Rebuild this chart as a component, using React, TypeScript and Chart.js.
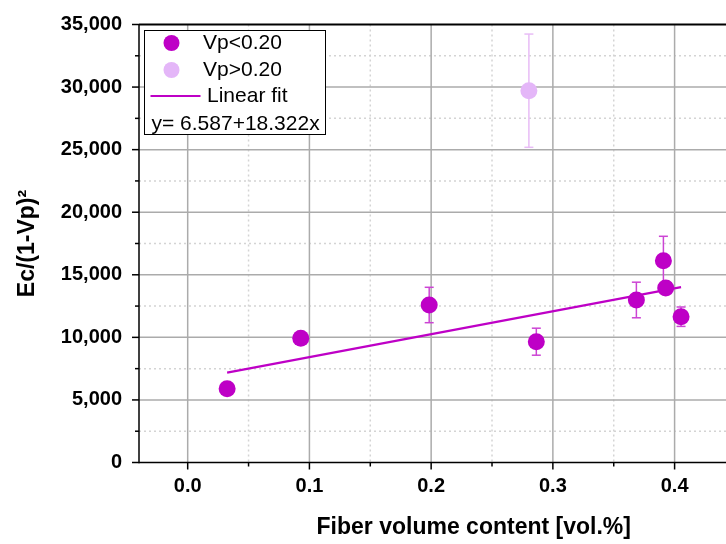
import React, { useEffect, useRef } from "react";
import { Chart, registerables } from "chart.js";

Chart.register(...registerables);

// ---- data ----
const lowX = [0.0324, 0.0929, 0.1984, 0.2864, 0.3686, 0.3908, 0.3927, 0.4053];
const lowY = [5900, 9925, 12586, 9653, 12986, 16126, 13945, 11651];
const lowErr = [300, 300, 1414, 1079, 1422, 1950, 500, 775];

const highX = [0.2803];
const highY = [29711];
const highErr = [4525];

const fitIntercept = 6587;
const fitSlope = 18322;
const fitRange = [0.0324, 0.4053];

const xTickValues = [0, 0.1, 0.2, 0.3, 0.4, 0.5];
const xTickLabels = ["0.0", "0.1", "0.2", "0.3", "0.4", "0.5"];
const xMinorValues = [0.05, 0.15, 0.25, 0.35, 0.45];
const yTickValues = [0, 5000, 10000, 15000, 20000, 25000, 30000, 35000];
const yTickLabels = ["0", "5,000", "10,000", "15,000", "20,000", "25,000", "30,000", "35,000"];
const yMinorValues = [2500, 7500, 12500, 17500, 22500, 27500, 32500];

const legendLabels = ["Vp<0.20", "Vp>0.20", "Linear fit"];
const equationText = "y= 6.587+18.322x";

const xTitle = "Fiber volume content [vol.%]";
const yTitle = "Ec/(1-Vp)\u00B2";

// ---- styles ----
const FONT = '"Liberation Sans", Arial, Helvetica, sans-serif';
const DARK = "#BE00C6";
const DARK_ERR = "#CC44D4";
const LIGHT = "#E4B6F8";
const LIGHT_ERR = "#E8BCF6";

function line(ctx: CanvasRenderingContext2D, x1: number, y1: number, x2: number, y2: number) {
  ctx.beginPath();
  ctx.moveTo(x1, y1);
  ctx.lineTo(x2, y2);
  ctx.stroke();
}

const framePlugin = {
  id: "frame",
  beforeDatasetsDraw(chart: any) {
    const { ctx, chartArea: a, scales } = chart;
    const x = scales.x;
    const y = scales.y;
    ctx.save();
    // minor dotted grid
    ctx.setLineDash([2, 3]);
    ctx.strokeStyle = "#d4d4d4";
    ctx.lineWidth = 1.5;
    xMinorValues.forEach((v) => {
      const px = x.getPixelForValue(v);
      line(ctx, px, a.top, px, a.bottom);
    });
    yMinorValues.forEach((v) => {
      const py = y.getPixelForValue(v);
      line(ctx, a.left, py, a.right, py);
    });
    // major grid
    ctx.setLineDash([]);
    ctx.strokeStyle = "#ababab";
    ctx.lineWidth = 1.5;
    xTickValues.forEach((v) => {
      const px = x.getPixelForValue(v);
      line(ctx, px, a.top, px, a.bottom);
    });
    yTickValues.forEach((v) => {
      if (v <= y.min || v >= y.max) return;
      const py = y.getPixelForValue(v);
      line(ctx, a.left, py, a.right, py);
    });
    // error bars
    const drawErr = (xs: number[], ys: number[], es: number[], color: string) => {
      ctx.strokeStyle = color;
      ctx.lineWidth = 1.5;
      xs.forEach((xv, i) => {
        const px = x.getPixelForValue(xv);
        const p1 = y.getPixelForValue(ys[i] + es[i]);
        const p2 = y.getPixelForValue(ys[i] - es[i]);
        line(ctx, px, p1, px, p2);
        line(ctx, px - 4.5, p1, px + 4.5, p1);
        line(ctx, px - 4.5, p2, px + 4.5, p2);
      });
    };
    drawErr(highX, highY, highErr, LIGHT_ERR);
    drawErr(lowX, lowY, lowErr, DARK_ERR);
    ctx.restore();
  },
  afterDraw(chart: any) {
    const { ctx, chartArea: a, scales } = chart;
    const x = scales.x;
    const y = scales.y;
    ctx.save();
    // axes lines
    ctx.strokeStyle = "#000";
    ctx.lineWidth = 1.5;
    line(ctx, a.left, a.top, a.left, a.bottom + 0.75);
    line(ctx, a.left, a.bottom, a.right, a.bottom);
    ctx.lineWidth = 2;
    line(ctx, a.left, a.top, a.right, a.top);
    // tick marks
    ctx.lineWidth = 1.5;
    xTickValues.forEach((v) => {
      const px = x.getPixelForValue(v);
      line(ctx, px, a.bottom, px, a.bottom + 7);
    });
    xMinorValues.forEach((v) => {
      const px = x.getPixelForValue(v);
      line(ctx, px, a.bottom, px, a.bottom + 4);
    });
    yTickValues.forEach((v) => {
      const py = y.getPixelForValue(v);
      line(ctx, a.left, py, a.left - 7, py);
    });
    yMinorValues.forEach((v) => {
      const py = y.getPixelForValue(v);
      line(ctx, a.left, py, a.left - 4, py);
    });
    // legend box
    const bx = a.left + 5.5;
    const by = a.top + 6;
    const bw = 181;
    const bh = 104;
    ctx.fillStyle = "#fff";
    ctx.fillRect(bx, by, bw, bh);
    ctx.strokeStyle = "#000";
    ctx.lineWidth = 1;
    ctx.strokeRect(bx, by, bw, bh);
    ctx.fillStyle = DARK;
    ctx.beginPath();
    ctx.arc(a.left + 32.5, a.top + 18.5, 8, 0, Math.PI * 2);
    ctx.fill();
    ctx.fillStyle = LIGHT;
    ctx.beginPath();
    ctx.arc(a.left + 32.5, a.top + 45.5, 8, 0, Math.PI * 2);
    ctx.fill();
    ctx.strokeStyle = DARK;
    ctx.lineWidth = 2;
    line(ctx, a.left + 11.5, a.top + 71.5, a.left + 61.5, a.top + 71.5);
    ctx.fillStyle = "#000";
    ctx.font = `21px ${FONT}`;
    ctx.textBaseline = "middle";
    ctx.textAlign = "left";
    ctx.fillText(legendLabels[0], a.left + 64, a.top + 19);
    ctx.fillText(legendLabels[1], a.left + 64, a.top + 46);
    ctx.fillText(legendLabels[2], a.left + 68, a.top + 72);
    ctx.fillText(equationText, a.left + 12.5, a.top + 100);
    ctx.restore();
  },
};

export default function App() {
  const canvasRef = useRef<HTMLCanvasElement | null>(null);

  useEffect(() => {
    const canvas = canvasRef.current;
    if (!canvas) return;
    Chart.defaults.font.family = FONT;
    const fitData = fitRange.map((xv) => ({ x: xv, y: fitIntercept + fitSlope * xv }));
    const chart = new Chart(canvas, {
      type: "scatter",
      data: {
        datasets: [
          {
            type: "scatter",
            label: legendLabels[0],
            data: lowX.map((xv, i) => ({ x: xv, y: lowY[i] })),
            backgroundColor: DARK,
            borderWidth: 0,
            pointRadius: 8.5,
            pointHoverRadius: 8.5,
          },
          {
            type: "scatter",
            label: legendLabels[1],
            data: highX.map((xv, i) => ({ x: xv, y: highY[i] })),
            backgroundColor: LIGHT,
            borderWidth: 0,
            pointRadius: 8.5,
            pointHoverRadius: 8.5,
          },
          {
            type: "line",
            label: legendLabels[2],
            data: fitData,
            borderColor: DARK,
            borderWidth: 2.2,
            pointRadius: 0,
            fill: false,
          },
        ],
      } as any,
      options: {
        animation: false,
        responsive: false,
        events: [],
        layout: { padding: { top: 24.5, right: 3, left: 0, bottom: 0 } },
        plugins: { legend: { display: false }, tooltip: { enabled: false } },
        scales: {
          x: {
            type: "linear",
            position: "bottom",
            min: -0.04,
            max: 0.51,
            bounds: "data",
            grid: { display: false, drawTicks: true, tickLength: 12 },
            border: { display: false },
            afterBuildTicks: (s: any) => {
              s.ticks = xTickValues.map((v) => ({ value: v }));
            },
            afterFit: (s: any) => {
              s.height = 81.5;
            },
            ticks: {
              autoSkip: false,
              maxRotation: 0,
              padding: 0,
              color: "#000",
              font: { size: 20, weight: "bold", family: FONT },
              callback: (_v: any, i: number) => xTickLabels[i],
            },
            title: {
              display: true,
              text: xTitle,
              color: "#000",
              font: { size: 23, weight: "bold", family: FONT },
              padding: { top: 0, bottom: 3 },
            },
          },
          y: {
            type: "linear",
            position: "left",
            min: 0,
            max: 35000,
            bounds: "data",
            grid: { display: false, drawTicks: true, tickLength: 17 },
            border: { display: false },
            afterBuildTicks: (s: any) => {
              s.ticks = yTickValues.map((v) => ({ value: v }));
            },
            afterFit: (s: any) => {
              s.width = 139;
            },
            ticks: {
              autoSkip: false,
              padding: 0,
              color: "#000",
              font: { size: 20, weight: "bold", family: FONT },
              callback: (_v: any, i: number) => yTickLabels[i],
            },
            title: {
              display: true,
              text: yTitle,
              color: "#000",
              font: { size: 23, weight: "bold", family: FONT },
              padding: { top: 14, bottom: 0 },
            },
          },
        },
      } as any,
      plugins: [framePlugin],
    });
    return () => chart.destroy();
  }, []);

  return (
    <div
      style={{
        position: "absolute",
        left: 0,
        top: 0,
        width: 726,
        height: 544,
        overflow: "hidden",
        background: "#fff",
      }}
    >
      <canvas ref={canvasRef} width={817} height={544} style={{ display: "block", width: 817, height: 544 }} />
    </div>
  );
}
